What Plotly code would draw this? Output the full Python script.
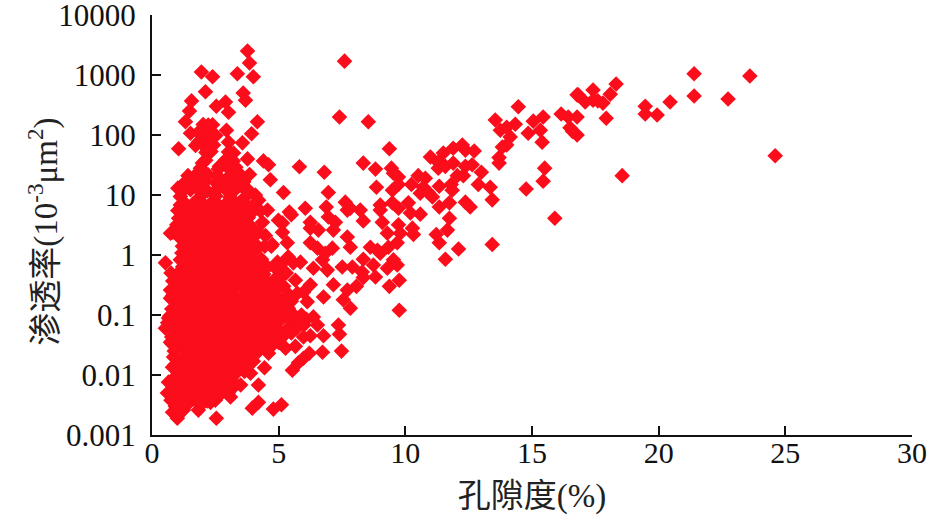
import plotly.graph_objects as go

PERM_TICKS = [0.001, 0.01, 0.1, 1, 10, 100, 1000, 10000]
PERM_LABELS = ["0.001", "0.01", "0.1", "1", "10", "100", "1000", "10000"]
POROSITY_TICKS = [0, 5, 10, 15, 20, 25, 30]

# sparse points at the top of the cloud, (porosity %, permeability)
TOP_POINTS = [
    (3.77, 2512), (3.85, 1585), (1.95, 1122), (2.39, 933), (3.37, 1047), (4.0, 933), (2.11, 525),
    (3.6, 500), (3.69, 380), (1.56, 370), (2.54, 302), (2.9, 355), (3.02, 240), (1.48, 251),
    (1.32, 166), (4.16, 166), (1.52, 107), (2.94, 120), (3.93, 105), (2.19, 135), (1.91, 120),
    (2.39, 148), (2.11, 93), (1.83, 76), (2.43, 68), (2.19, 56), (1.05, 59), (3.02, 76),
    (3.57, 74), (3.1, 50), (3.77, 40), (4.4, 37), (4.6, 32), (5.82, 29.5), (6.8, 24),
    (4.67, 18), (5.19, 11), (6.96, 11), (3.85, 22), (3.49, 22), (3.1, 30), (2.66, 30),
    (1.99, 34), (3.81, 12), (4.08, 10), (3.18, 16.6), (2.62, 20), (1.79, 23), (1.6, 18),
    (1.24, 15), (1.12, 6.8), (4.56, 5.6), (5.42, 5.2), (6.88, 6.3), (7.63, 7.6), (7.71, 5.6),
    (6.96, 4.3), (4.99, 3.8), (7.4, 200), (7.6, 1700), (5.5, 4.7), (6.05, 6), (6.25, 3.5),
    (6.57, 2.6), (7.24, 3.5),
    (2.02, 150), (2.22, 146), (1.92, 101), (2.12, 99), (2.32, 103), (2.52, 98), (2.02, 69),
    (2.24, 66), (1.72, 67), (2.13, 51), (2.33, 53), (3.02, 52), (3.22, 50), (2.12, 38),
    (2.92, 39), (3.21, 37), (1.91, 28), (2.62, 27), (3.02, 28), (3.31, 29), (1.42, 21),
    (1.82, 20), (2.21, 22), (2.58, 21), (3.02, 20), (3.22, 21), (1.31, 16.5), (1.72, 16),
    (2.11, 17), (2.52, 16.2), (2.91, 16.8), (3.31, 16), (3.62, 16.5), (1.02, 13), (1.22, 13.4),
    (1.82, 12.9), (2.62, 13.2), (3.62, 13), (4.21, 8.2),
]

# rising trend on the right hand side
TREND_POINTS = [
    (14.46, 295), (13.55, 178), (15.44, 200), (16.15, 224), (16.43, 200), (16.78, 467), (16.78, 200),
    (16.5, 132), (16.78, 100), (14.34, 151), (15.05, 170), (15.33, 120), (14.85, 107), (15.4, 76),
    (13.75, 120), (14.0, 135), (14.14, 93), (13.83, 63), (14.0, 68), (13.7, 42), (13.7, 34),
    (15.5, 28), (15.44, 17), (14.77, 12.6), (15.9, 4.1), (13.43, 1.5), (12.1, 1.26), (11.58, 0.85),
    (8.54, 166), (9.37, 59), (8.34, 34), (8.82, 27), (9.45, 28), (9.53, 23), (9.73, 20),
    (8.86, 13.5), (9.73, 15), (9.49, 12), (10.24, 15), (10.51, 21), (10.79, 19), (10.71, 13.5),
    (10.59, 10.7), (10.91, 11), (11.07, 9.3), (11.34, 14), (11.81, 15), (11.85, 12), (10.99, 43),
    (11.5, 50), (11.3, 35), (11.3, 28), (11.58, 30), (11.89, 60), (12.25, 68), (12.37, 56),
    (12.72, 54), (11.89, 34), (12.64, 32), (12.37, 30), (12.05, 21), (12.29, 21), (13.0, 24),
    (12.88, 15), (13.35, 13.5), (13.43, 8.3), (12.37, 7.6), (12.56, 6.3), (11.74, 7.4), (11.34, 6.3),
    (11.74, 4.1), (11.66, 2.6), (11.22, 2.2), (11.34, 1.6), (10.59, 4.8), (10.2, 5), (10.12, 7.4),
    (9.73, 6), (9.49, 7.4), (9.01, 6.8), (9.01, 5.6), (8.22, 5.6), (8.34, 3.7), (9.09, 3.5),
    (7.83, 6), (9.73, 3.2), (10.28, 2.8), (10.32, 2.2), (9.29, 2.3), (9.8, 2.3), (9.68, 1.6),
    (9.33, 1.35), (8.9, 1.2), (8.62, 1.35), (9.01, 1.07), (7.83, 1.35), (8.34, 0.85), (9.53, 0.83),
    (8.74, 0.68), (9.29, 0.6), (9.68, 0.68), (7.91, 0.63), (8.3, 0.52), (8.82, 0.43), (8.34, 0.42),
    (9.76, 0.38), (9.37, 0.3), (8.07, 0.3), (7.83, 0.13), (9.76, 0.12),
    (24.6, 45), (23.6, 960), (22.74, 398), (21.4, 1047), (21.4, 447), (20.45, 355), (19.94, 215),
    (19.47, 302), (19.47, 224), (18.56, 21), (18.32, 708), (18.09, 480), (17.93, 190), (17.8, 340),
    (17.41, 562), (17.41, 380), (17.1, 355), (16.82, 467), (17.6, 370), (16.6, 115),
]

# lower edge and middle part of the cloud
EDGE_POINTS = [
    (0.73, 2.3), (0.53, 0.74), (1.12, 0.83), (0.73, 0.26), (0.73, 0.19), (0.65, 0.089), (0.53, 0.06),
    (0.73, 0.035), (0.85, 0.02), (0.81, 0.0135), (0.65, 0.0076), (0.61, 0.005), (0.81, 0.0024),
    (1.0, 0.0019), (1.24, 0.0026), (1.12, 0.0034), (1.83, 0.0026), (2.54, 0.0019), (3.1, 0.0043),
    (2.31, 0.0035), (3.96, 0.0028), (4.2, 0.0035), (4.2, 0.0068), (4.44, 0.0132), (3.89, 0.0107),
    (4.79, 0.0027), (5.11, 0.0032), (5.54, 0.012), (5.78, 0.016), (5.98, 0.019), (6.21, 0.023),
    (6.73, 0.024), (7.48, 0.025), (6.77, 0.045), (7.4, 0.048), (7.36, 0.068), (6.25, 0.045),
    (5.98, 0.043), (6.53, 0.068), (6.37, 0.093), (5.66, 0.03), (5.27, 0.028), (4.6, 0.023),
    (5.58, 0.074), (5.19, 0.093), (5.86, 0.083), (6.13, 0.166), (5.74, 0.23), (5.15, 0.18),
    (6.77, 0.2), (7.55, 0.18), (7.16, 0.32), (7.71, 0.26), (4.99, 0.28), (4.48, 0.38), (6.25, 0.32),
    (5.98, 0.24), (5.66, 0.38), (4.95, 0.76), (4.56, 0.63), (4.95, 0.56), (5.86, 0.76), (5.58, 0.74),
    (6.37, 0.6), (6.92, 0.56), (7.51, 0.63), (6.73, 0.83), (7.12, 1.3), (6.25, 1.6), (6.53, 1.3),
    (6.84, 1.07), (6.25, 2.8), (7.16, 2.6), (7.71, 2.0), (5.34, 1.6), (5.15, 2.4), (4.48, 2.1),
    (4.75, 1.5), (5.38, 0.93), (4.16, 1.3), (3.89, 1.07), (4.36, 3.5), (5.15, 3.4), (3.57, 0.76),
    (3.37, 1.6),
    (5.4, 0.11), (5.6, 0.1), (5.9, 0.1), (6.1, 0.085), (5.7, 0.06), (5.4, 0.06), (6.0, 0.068),
    (5.2, 0.045), (5.5, 0.05), (5.0, 0.035), (4.9, 0.07), (4.7, 0.3), (5.2, 0.3), (5.5, 0.17),
    (5.4, 0.22), (5.0, 0.4), (5.3, 0.5), (5.1, 0.7),
]

# the solid core of the cloud
CORE_POINTS = [
    (1.52, 12.3), (2.18, 11.8), (2.93, 12.1), (3.31, 12.6),
    (1.12, 9.4), (1.87, 9.1), (2.52, 9.6), (3.08, 9.2), (3.71, 9.5),
    (1.33, 7.1), (1.82, 6.8), (2.31, 7.2), (2.88, 6.9), (3.42, 7.3), (4.02, 6.9),
    (1.02, 5.5), (1.48, 5.3), (2.12, 5.6), (2.71, 5.2), (3.18, 5.5), (3.73, 5.3), (4.28, 5.4),
    (1.31, 4.2), (1.93, 4.0), (2.38, 4.3), (3.02, 4.1), (3.52, 4.0),
    (0.98, 3.2), (1.62, 3.3), (2.21, 3.1), (2.79, 3.2), (3.33, 3.3), (3.88, 3.1),
    (0.82, 2.4), (1.28, 2.5), (1.91, 2.3), (2.42, 2.5), (3.03, 2.4), (3.58, 2.3), (4.21, 2.4),
    (1.12, 1.9), (1.63, 1.8), (2.22, 1.9), (2.77, 1.8), (3.31, 1.85), (3.92, 1.9),
    (1.42, 1.4), (1.88, 1.45), (2.52, 1.35), (3.02, 1.4), (3.62, 1.42), (4.18, 1.38), (4.71, 1.4),
    (1.18, 1.08), (1.72, 1.05), (2.31, 1.1), (2.82, 1.04), (3.38, 1.07), (3.91, 1.09),
    (1.52, 0.84), (2.03, 0.81), (2.61, 0.85), (3.12, 0.82), (3.72, 0.83), (4.32, 0.85),
    (1.21, 0.64), (1.78, 0.62), (2.42, 0.65), (2.91, 0.61), (3.48, 0.63), (4.12, 0.64),
    (1.02, 0.49), (1.53, 0.47), (2.11, 0.48), (2.68, 0.5), (3.22, 0.47), (3.81, 0.49), (4.41, 0.48),
    (0.82, 0.37), (1.31, 0.38), (1.88, 0.36), (2.42, 0.37), (3.02, 0.38), (3.58, 0.36), (4.22, 0.37), (4.81, 0.38),
    (1.03, 0.28), (1.62, 0.29), (2.18, 0.27), (2.72, 0.28), (3.31, 0.29), (3.92, 0.27), (4.52, 0.28),
    (0.81, 0.21), (1.32, 0.22), (1.91, 0.2), (2.48, 0.21), (3.03, 0.22), (3.61, 0.2), (4.18, 0.21), (4.82, 0.22),
    (1.02, 0.166), (1.58, 0.16), (2.21, 0.17), (2.78, 0.165), (3.32, 0.16), (3.91, 0.17), (4.52, 0.165), (5.02, 0.16),
    (0.78, 0.126), (1.31, 0.13), (1.92, 0.12), (2.52, 0.127), (3.08, 0.13), (3.62, 0.122), (4.21, 0.128), (4.81, 0.125), (5.38, 0.13),
    (0.71, 0.097), (1.12, 0.094), (1.62, 0.1), (2.21, 0.095), (2.79, 0.098), (3.32, 0.093), (3.91, 0.099), (4.48, 0.096), (5.03, 0.094),
    (0.62, 0.074), (1.31, 0.076), (1.88, 0.072), (2.51, 0.075), (3.11, 0.073), (3.62, 0.077), (4.22, 0.074), (4.78, 0.072),
    (0.91, 0.056), (1.58, 0.058), (2.21, 0.054), (2.82, 0.057), (3.31, 0.055), (3.92, 0.058), (4.51, 0.056), (5.02, 0.054),
    (0.78, 0.043), (1.32, 0.044), (1.91, 0.042), (2.48, 0.045), (3.12, 0.043), (3.61, 0.041), (4.19, 0.044), (4.82, 0.042),
    (1.02, 0.033), (1.61, 0.034), (2.18, 0.032), (2.79, 0.033), (3.32, 0.034), (3.88, 0.032), (4.52, 0.033),
    (0.88, 0.025), (1.31, 0.026), (1.92, 0.024), (2.52, 0.025), (3.08, 0.026), (3.62, 0.024), (4.21, 0.025),
    (1.02, 0.019), (1.58, 0.0195), (2.22, 0.0185), (2.78, 0.019), (3.32, 0.0195), (3.91, 0.0185),
    (0.91, 0.0148), (1.31, 0.015), (1.89, 0.0143), (2.52, 0.0148), (3.02, 0.0152), (3.61, 0.0145),
    (1.02, 0.0112), (1.62, 0.0115), (2.18, 0.0109), (2.81, 0.0112), (3.38, 0.0114),
    (0.82, 0.0085), (1.31, 0.0087), (1.92, 0.0083), (2.48, 0.0086), (3.12, 0.0084),
    (1.03, 0.0066), (1.61, 0.0068), (2.22, 0.0064), (2.79, 0.0066), (3.28, 0.0067),
    (0.72, 0.005), (1.31, 0.0051), (1.88, 0.0049), (2.52, 0.005), (3.02, 0.0051),
    (1.02, 0.0038), (1.58, 0.0039), (2.18, 0.0037),
    (0.92, 0.003), (1.32, 0.003), (1.91, 0.0031),
]

# more of the same, filling what the rows above leave open
CORE_FILL_POINTS = [
    (1.85, 12), (2.55, 12), (3.12, 12.2), (1.2, 11.5),
    (1.6, 7.0), (2.05, 6.9), (2.6, 7.0), (3.15, 7.1), (3.7, 7.0),
    (1.05, 4.1), (1.6, 4.1), (2.15, 4.2), (2.7, 4.1), (3.25, 4.0), (3.8, 4.2),
    (1.05, 2.45), (1.6, 2.4), (2.15, 2.4), (2.72, 2.45), (3.3, 2.35), (3.9, 2.4),
    (1.2, 1.4), (1.65, 1.42), (2.2, 1.4), (2.77, 1.38), (3.32, 1.41), (3.9, 1.4), (4.45, 1.4),
    (1.25, 0.83), (1.78, 0.83), (2.32, 0.84), (2.86, 0.82), (3.42, 0.83), (4.02, 0.84),
    (0.75, 0.5), (1.28, 0.48), (1.82, 0.48), (2.4, 0.49), (2.95, 0.48), (3.52, 0.48), (4.11, 0.49),
    (1.32, 0.28), (1.9, 0.28), (2.45, 0.28), (3.0, 0.28), (3.62, 0.28), (4.22, 0.28), (4.8, 0.28),
    (1.3, 0.165), (1.9, 0.165), (2.5, 0.166), (3.05, 0.165), (3.62, 0.166), (4.22, 0.165), (4.78, 0.165), (5.3, 0.165),
    (0.92, 0.097), (1.38, 0.096), (1.92, 0.097), (2.5, 0.096), (3.05, 0.096), (3.62, 0.097), (4.2, 0.097), (4.76, 0.096), (5.3, 0.096),
    (1.25, 0.056), (1.9, 0.056), (2.5, 0.056), (3.06, 0.056), (3.62, 0.056), (4.22, 0.056), (4.76, 0.056), (5.3, 0.056),
    (0.8, 0.033), (1.3, 0.033), (1.9, 0.033), (2.48, 0.033), (3.05, 0.033), (3.6, 0.033), (4.2, 0.033), (4.8, 0.033),
    (1.3, 0.019), (1.9, 0.019), (2.5, 0.019), (3.05, 0.019), (3.62, 0.019), (4.0, 0.017),
    (1.3, 0.0112), (1.9, 0.0112), (2.5, 0.0112), (3.1, 0.0112), (3.65, 0.0115),
    (1.3, 0.0066), (1.9, 0.0066), (2.5, 0.0066), (3.05, 0.0066), (3.5, 0.0068),
    (0.75, 0.0038), (1.3, 0.0038), (1.9, 0.0038), (2.5, 0.0038),
    (1.05, 0.37), (1.6, 0.37), (2.15, 0.37), (2.72, 0.37), (3.3, 0.37), (3.9, 0.37), (4.5, 0.37),
    (1.5, 0.64), (2.1, 0.64), (2.65, 0.64), (3.2, 0.64), (3.8, 0.64),
    (1.45, 1.08), (2.0, 1.08), (2.55, 1.08), (3.1, 1.08), (3.65, 1.08),
    (1.38, 1.85), (1.92, 1.85), (2.5, 1.85), (3.05, 1.85), (3.6, 1.85),
    (1.3, 3.2), (1.9, 3.2), (2.5, 3.2), (3.05, 3.2), (3.6, 3.2),
    (1.25, 5.4), (1.8, 5.4), (2.4, 5.4), (2.95, 5.4), (3.45, 5.4), (4.0, 5.4),
    (1.05, 0.21), (1.6, 0.21), (2.2, 0.21), (2.75, 0.21), (3.3, 0.21), (3.9, 0.21), (4.5, 0.21),
    (1.05, 0.126), (1.6, 0.126), (2.2, 0.126), (2.8, 0.126), (3.35, 0.126), (3.9, 0.126), (4.5, 0.126), (5.1, 0.126),
    (0.95, 0.074), (1.6, 0.074), (2.2, 0.074), (2.8, 0.074), (3.35, 0.074), (3.9, 0.074), (4.5, 0.074),
    (1.05, 0.043), (1.6, 0.043), (2.2, 0.043), (2.8, 0.043), (3.35, 0.043), (3.9, 0.043), (4.5, 0.043),
    (1.6, 0.025), (2.2, 0.025), (2.8, 0.025), (3.35, 0.025), (3.9, 0.025),
    (1.1, 0.0148), (1.6, 0.0148), (2.2, 0.0148), (2.75, 0.0148), (3.3, 0.0148),
    (1.05, 0.0085), (1.6, 0.0085), (2.2, 0.0085), (2.8, 0.0085),
    (1.0, 0.005), (1.6, 0.005), (2.2, 0.005), (2.75, 0.005),
]

points = TOP_POINTS + TREND_POINTS + EDGE_POINTS + CORE_POINTS + CORE_FILL_POINTS
porosity, permeability = zip(*points)

fig = go.Figure(
    go.Scatter(
        x=porosity,
        y=permeability,
        mode="markers",
        marker=dict(symbol="diamond", size=12, color="#fb0d1b", line=dict(width=0)),
        showlegend=False,
    )
)

font_name = "Liberation Serif, Noto Sans CJK SC"
fig.update_xaxes(
    range=[0, 30],
    tickvals=POROSITY_TICKS,
    ticks="inside",
    ticklen=9,
    tickwidth=2,
    tickcolor="#111111",
    showline=True,
    linewidth=2,
    linecolor="#111111",
    showgrid=False,
    zeroline=False,
    ticklabelstandoff=-10,
    tickfont=dict(family=font_name, size=30, color="#111111"),
    title=dict(text="孔隙度(%)", standoff=16, font=dict(family=font_name, size=33, color="#222222")),
)
fig.update_yaxes(
    type="log",
    range=[-3, 4],
    tickvals=PERM_TICKS,
    ticktext=PERM_LABELS,
    ticks="inside",
    ticklen=9,
    tickwidth=2,
    tickcolor="#111111",
    showline=True,
    linewidth=2,
    linecolor="#111111",
    showgrid=False,
    zeroline=False,
    ticklabelstandoff=8,
    ticklabeloverflow="allow",
    tickfont=dict(family=font_name, size=31, color="#111111"),
)
# the axis title would sit too far left of the wide tick labels
fig.add_annotation(
    text="渗透率(10<sup>-3</sup>μm<sup>2</sup>)",
    xref="paper",
    yref="paper",
    x=-0.1427,
    y=0.483,
    xanchor="center",
    yanchor="middle",
    showarrow=False,
    textangle=-90,
    font=dict(family=font_name, size=33, color="#222222"),
)
fig.update_layout(
    width=945,
    height=520,
    margin=dict(l=151.5, r=33, t=15, b=85, autoexpand=False),
    plot_bgcolor="white",
    paper_bgcolor="white",
)

# the default page has a body margin that would push the plot off the window
fig.write_html(
    "out.html",
    config={"displayModeBar": False},
    post_script="document.body.style.margin = '0';",
)
